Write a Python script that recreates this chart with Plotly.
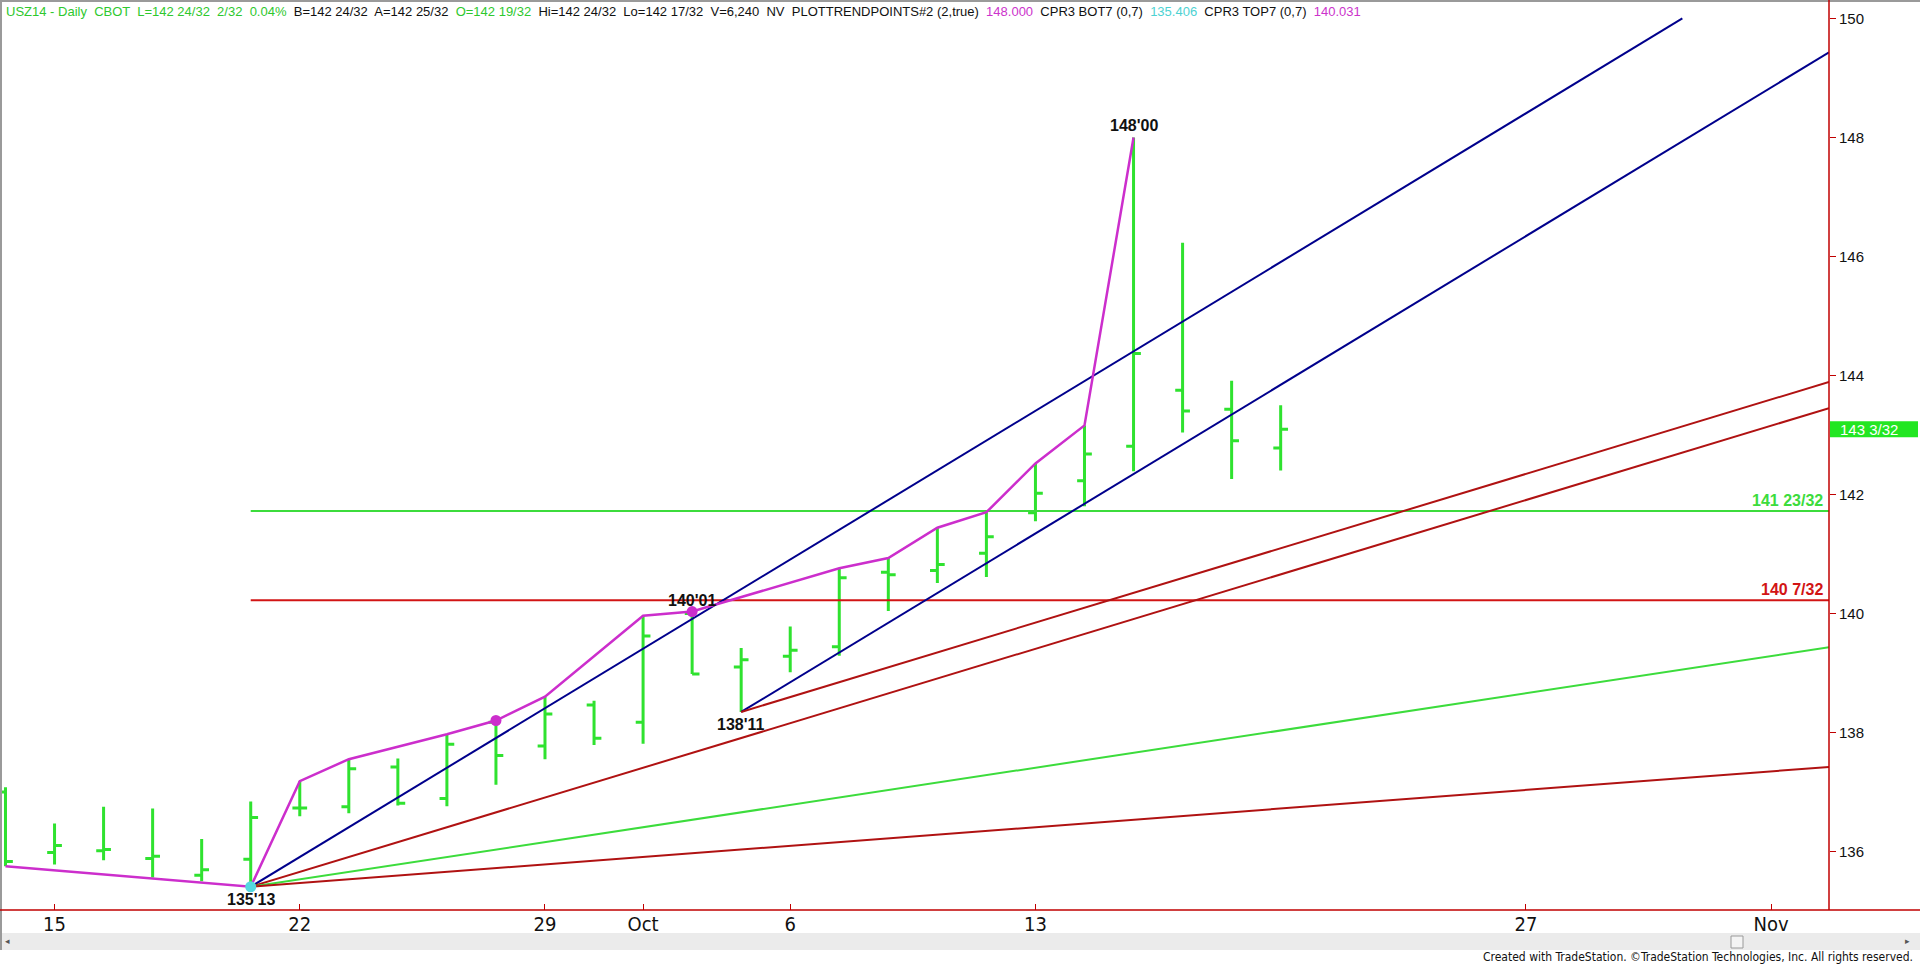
import plotly.graph_objects as go

# ---------------- data ----------------
bar_dates = ["Sep 12", "Sep 15", "Sep 16", "Sep 17", "Sep 18", "Sep 19", "Sep 22", "Sep 23", "Sep 24",
             "Sep 25", "Sep 26", "Sep 29", "Sep 30", "Oct 1", "Oct 2", "Oct 3", "Oct 6", "Oct 7", "Oct 8",
             "Oct 9", "Oct 10", "Oct 13", "Oct 14", "Oct 15", "Oct 16", "Oct 17", "Oct 20"]
bar_idx = list(range(len(bar_dates)))
opens = [137.00, 135.98, 136.01, 135.88, 135.60, 135.87, 136.73, 136.75, 137.42, 136.89, 138.17, 137.77, 138.46,
         138.17, 140.00, 139.10, 139.28, 139.44, 140.69, 140.72, 141.01, 141.69, 142.23, 142.81, 143.75, 143.43, 142.78]
highs = [137.08, 136.47, 136.75, 136.72, 136.21, 136.84, 137.18, 137.55, 137.56, 137.97, 138.20, 138.60, 138.53,
         139.96, 140.031, 139.42, 139.78, 140.76, 140.93, 141.44, 141.70, 142.52, 143.16, 148.00, 146.23, 143.91, 143.50]
lows = [135.75, 135.78, 135.85, 135.56, 135.50, 135.406, 136.59, 136.64, 136.77, 136.76, 137.12, 137.55, 137.79,
        137.81, 138.98, 138.344, 139.01, 139.29, 140.04, 140.51, 140.61, 141.55, 141.80, 142.39, 143.04, 142.26, 142.40]
closes = [135.83, 136.10, 136.03, 135.92, 135.69, 136.57, 136.73, 137.39, 136.81, 137.80, 137.61, 138.31, 137.90,
          139.62, 138.98, 139.22, 139.38, 140.60, 140.65, 140.82, 141.29, 142.02, 142.68, 144.37, 143.40, 142.90, 143.094]

# swing line (PLOTTRENDPOINTS)
swing_x = [0, 5, 6, 7, 9, 10, 11, 13, 14, 17, 18, 19, 20, 21, 22, 23]
swing_y = [135.75, 135.406, 137.18, 137.55, 137.97, 138.20, 138.60, 139.96, 140.031, 140.76, 140.93, 141.44,
           141.70, 142.52, 143.16, 148.00]
pivot_dot_x = [10, 14]
pivot_dot_y = [138.20, 140.031]
low_dot_x = [5]
low_dot_y = [135.406]

pivot_label_x = [5, 14, 15, 23]
pivot_label_y = [135.406, 140.031, 138.344, 148.00]
pivot_label_text = ["135'13", "140'01", "138'11", "148'00"]
pivot_label_above = [False, True, False, True]

# trend / fan lines: start and end points
fan_x0 = [5, 5, 5, 5, 15, 15]
fan_y0 = [135.406, 135.406, 135.406, 135.406, 138.344, 138.344]
fan_x1 = [34.19, 37.18, 37.18, 37.18, 37.18, 37.18]
fan_y1 = [150.00, 143.45, 139.43, 137.42, 149.43, 143.89]
fan_kind = ["blue", "red", "green", "red", "blue", "red"]

# horizontal levels
level_start = 5
level_end = 37.18
level_values = [141.719, 140.219]
level_labels = ["141 23/32", "140 7/32"]
level_kind = ["green", "red"]

last_price = 143.094
last_label = "143 3/32"

ytick_vals = [136, 138, 140, 142, 144, 146, 148, 150]
xtick_vals = [1, 6, 11, 13, 16, 21, 31, 36]
xtick_text = ["15", "22", "29", "Oct", "6", "13", "27", "Nov"]

# ---------------- layout geometry ----------------
W, H = 1920, 964
L, R, T, B = 0, 91, 2, 54
PW, PH = W - L - R, H - T - B


def px(x):
    return (x - L) / PW


def py(y):
    return (H - B - y) / PH


BAR_GREEN = "#2FE22F"
BLUE = "#00008C"
FAN_RED = "#B01212"
LEVEL_RED = "#D21414"
LIME = "#3CDC3C"
MAGENTA = "#CC2ECC"
CYAN = "#55D8E0"
AXIS_RED = "#C00000"
color_map = {"blue": BLUE, "red": FAN_RED, "green": LIME}
level_color = {"green": LIME, "red": LEVEL_RED}
FONT = "Liberation Sans, Arial, sans-serif"
NARROW = "Liberation Sans Narrow, Arial Narrow, DejaVu Sans Condensed, Liberation Sans, sans-serif"

fig = go.Figure()

# horizontal levels
for v, k in zip(level_values, level_kind):
    fig.add_trace(go.Scatter(x=[level_start, level_end], y=[v, v], mode="lines",
                             line=dict(color=level_color[k], width=2), hoverinfo="skip", showlegend=False))

# fan lines
for x0, y0, x1, y1, k in zip(fan_x0, fan_y0, fan_x1, fan_y1, fan_kind):
    fig.add_trace(go.Scatter(x=[x0, x1], y=[y0, y1], mode="lines",
                             line=dict(color=color_map[k], width=2), hoverinfo="skip", showlegend=False))

# OHLC bars
fig.add_trace(go.Ohlc(x=bar_idx, open=opens, high=highs, low=lows, close=closes,
                      increasing=dict(line=dict(color=BAR_GREEN, width=3)),
                      decreasing=dict(line=dict(color=BAR_GREEN, width=3)),
                      tickwidth=0.15, hoverinfo="skip", showlegend=False))

# swing line
fig.add_trace(go.Scatter(x=swing_x, y=swing_y, mode="lines",
                         line=dict(color=MAGENTA, width=2.5), hoverinfo="skip", showlegend=False))
fig.add_trace(go.Scatter(x=pivot_dot_x, y=pivot_dot_y, mode="markers",
                         marker=dict(color=MAGENTA, size=11), hoverinfo="skip", showlegend=False))
fig.add_trace(go.Scatter(x=low_dot_x, y=low_dot_y, mode="markers",
                         marker=dict(color=CYAN, size=11), hoverinfo="skip", showlegend=False))

annotations = []
for x, y, t, above in zip(pivot_label_x, pivot_label_y, pivot_label_text, pivot_label_above):
    annotations.append(dict(x=x, y=y, xref="x", yref="y", text="<b>%s</b>" % t, showarrow=False,
                            xanchor="center", yanchor="bottom" if above else "top",
                            yshift=1 if above else -2,
                            font=dict(family=FONT, size=16, color="#111111")))

for v, t, k in zip(level_values, level_labels, level_kind):
    annotations.append(dict(x=px(1825), y=v, xref="paper", yref="y", text="<b>%s</b>" % t,
                            showarrow=False, xanchor="right", yanchor="bottom", yshift=0,
                            font=dict(family=FONT, size=16, color=level_color[k])))

annotations.append(dict(x=px(1838), y=last_price, xref="paper", yref="y", text=last_label, showarrow=False,
                        xanchor="left", yanchor="middle", font=dict(family=FONT, size=15, color="white")))

G = "#2EC82E"
header = ("<span style='color:%s'>USZ14 - Daily  CBOT  L=142 24/32  2/32  0.04%%</span>"
          "  B=142 24/32  A=142 25/32  <span style='color:%s'>O=142 19/32</span>"
          "  Hi=142 24/32  Lo=142 17/32  V=6,240  NV  PLOTTRENDPOINTS#2 (2,true)"
          "  <span style='color:#CC33CC'>148.000</span>  CPR3 BOT7 (0,7)"
          "  <span style='color:#4DD2D2'>135.406</span>  CPR3 TOP7 (0,7)"
          "  <span style='color:#CC33CC'>140.031</span>") % (G, G)
annotations.append(dict(x=px(4), y=py(11), xref="paper", yref="paper", text=header, showarrow=False,
                        xanchor="left", yanchor="middle", font=dict(family=FONT, size=13, color="#111111")))

annotations.append(dict(x=px(1915), y=py(957), xref="paper", yref="paper",
                        text="Created with TradeStation. \u00a9TradeStation Technologies, Inc. All rights reserved.",
                        showarrow=False, xanchor="right", yanchor="middle",
                        font=dict(family=NARROW, size=12, color="#111111")))
annotations.append(dict(x=px(7), y=py(941), xref="paper", yref="paper", text="\u25c2", showarrow=False,
                        xanchor="center", yanchor="middle", font=dict(family=FONT, size=9, color="#555555")))
annotations.append(dict(x=px(1907), y=py(941), xref="paper", yref="paper", text="\u25b8", showarrow=False,
                        xanchor="center", yanchor="middle", font=dict(family=FONT, size=9, color="#555555")))

shapes = [
    # scrollbar band
    dict(type="rect", xref="paper", yref="paper", x0=px(0), x1=px(1920), y0=py(950), y1=py(933),
         fillcolor="#EBEBEB", line=dict(width=0), layer="below"),
    dict(type="rect", xref="paper", yref="paper", x0=px(1731), x1=px(1743), y0=py(948), y1=py(936),
         fillcolor="#F4F4F4", line=dict(width=1, color="#9A9A9A")),
    # window border
    dict(type="line", xref="paper", yref="paper", x0=px(0), x1=px(1920), y0=py(1), y1=py(1),
         line=dict(color="#9A9A9A", width=2)),
    dict(type="line", xref="paper", yref="paper", x0=px(1), x1=px(1), y0=py(0), y1=py(950),
         line=dict(color="#9A9A9A", width=2)),
    # axis lines
    dict(type="line", xref="paper", yref="paper", x0=px(0), x1=px(1920), y0=py(910), y1=py(910),
         line=dict(color=AXIS_RED, width=1.5)),
    dict(type="line", xref="paper", yref="paper", x0=px(1829), x1=px(1829), y0=py(0), y1=py(910),
         line=dict(color=AXIS_RED, width=1.5)),
    # last price box
    dict(type="rect", xref="paper", yref="y", x0=px(1830), x1=px(1918), y0=last_price - 0.135,
         y1=last_price + 0.135, fillcolor="#22E622", line=dict(width=0)),
]

fig.update_layout(
    width=W, height=H, margin=dict(l=L, r=R, t=T, b=B, pad=0),
    paper_bgcolor="white", plot_bgcolor="white", showlegend=False,
    annotations=annotations, shapes=shapes,
    xaxis=dict(range=[-0.112, 37.18], tickvals=xtick_vals, ticktext=xtick_text, showgrid=False,
               zeroline=False, showline=False, ticks="inside", ticklen=6, tickcolor=AXIS_RED,
               tickfont=dict(family=NARROW, size=20, color="#111111"), rangeslider=dict(visible=False),
               fixedrange=True),
    yaxis=dict(range=[135.015, 150.276], side="right", tickvals=ytick_vals, showgrid=False,
               zeroline=False, showline=False, ticks="outside", ticklen=6, tickcolor=AXIS_RED,
               tickfont=dict(family=FONT, size=15, color="#111111"), fixedrange=True),
)

fig.write_html("out.html", config={"displayModeBar": False},
               post_script="document.body.style.margin='0';document.body.style.overflow='hidden';")
